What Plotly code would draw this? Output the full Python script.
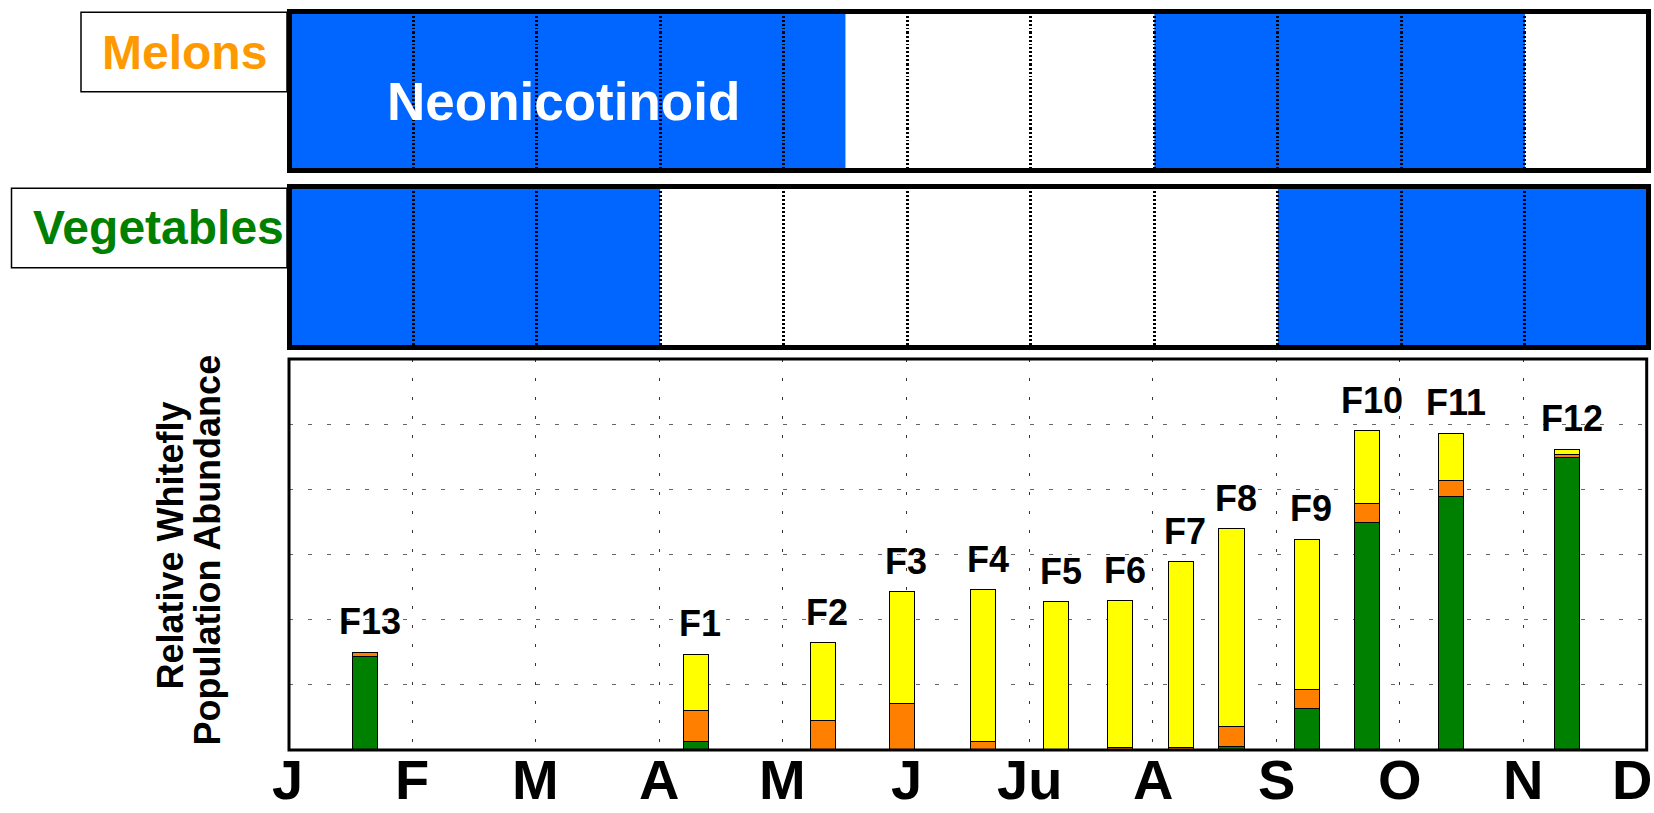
import plotly.graph_objects as go

# ---------------- data ----------------
months = ["J", "F", "M", "A", "M", "J", "Ju", "A", "S", "O", "N", "D"]
month_pos = list(range(12))

field_names = ["F13", "F1", "F2", "F3", "F4", "F5", "F6", "F7", "F8", "F9", "F10", "F11", "F12"]
field_time = [0.62, 3.30, 4.33, 4.97, 5.63, 6.22, 6.74, 7.23, 7.64, 8.25, 8.74, 9.42, 10.36]
green_vals = [1.42, 0.13, None, None, None, None, None, None, 0.04, 0.63, 3.49, 3.88, 4.48]
orange_vals = [0.07, 0.47, 0.45, 0.70, 0.12, None, 0.03, 0.03, 0.31, 0.29, 0.29, 0.25, 0.05]
yellow_vals = [None, 0.86, 1.19, 1.72, 2.33, 2.27, 2.25, 2.85, 3.04, 2.31, 1.11, 0.72, 0.08]

melon_neonic = [(0.0, 4.5), (7.0, 10.0)]
veg_neonic = [(0.0, 3.0), (8.0, 11.0)]

# ---------------- styling ----------------
W, H = 1654, 813
BLUE = "#0066FF"
GREEN = "#008000"
ORANGE = "#FF8000"
YELLOW = "#FFFF00"
SANS = "Arial, Liberation Sans, Helvetica, sans-serif"


def pxx(p):
    return p / W


def pxy(p):
    return 1 - p / H


fig = go.Figure()

bar_w = 0.203
for vals, col, nm in [(green_vals, GREEN, "green"), (orange_vals, ORANGE, "orange"), (yellow_vals, YELLOW, "yellow")]:
    fig.add_trace(go.Bar(
        x=field_time, y=vals, width=bar_w, name=nm,
        marker=dict(color=col, line=dict(color="black", width=1.2)),
        xaxis="x", yaxis="y", showlegend=False, hoverinfo="skip",
    ))

# invisible traces so top panels exist
for xa, ya in [("x2", "y2"), ("x3", "y3")]:
    fig.add_trace(go.Scatter(x=[0, 11], y=[0, 1], mode="markers", marker=dict(opacity=0),
                             xaxis=xa, yaxis=ya, showlegend=False, hoverinfo="skip"))

shapes = []
annotations = []

# bottom chart border
shapes.append(dict(type="rect", xref="x domain", yref="y domain", x0=0, x1=1, y0=0, y1=1,
                   line=dict(color="black", width=3), layer="above"))

# top panels
for (xa, ya, periods) in [("x2", "y2", melon_neonic), ("x3", "y3", veg_neonic)]:
    for s, e in periods:
        shapes.append(dict(type="rect", xref=xa, yref=ya + " domain", x0=s, x1=e, y0=0, y1=1,
                           fillcolor=BLUE, line=dict(width=0), layer="below"))
    shapes.append(dict(type="rect", xref=xa + " domain", yref=ya + " domain", x0=0, x1=1, y0=0, y1=1,
                       line=dict(color="black", width=5), layer="above"))

# label boxes
shapes.append(dict(type="rect", xref="paper", yref="paper", x0=pxx(81), x1=pxx(287),
                   y0=pxy(91.7), y1=pxy(12.3), line=dict(color="black", width=1.5), fillcolor="white",
                   layer="below"))
shapes.append(dict(type="rect", xref="paper", yref="paper", x0=pxx(11.5), x1=pxx(287),
                   y0=pxy(267.7), y1=pxy(188.3), line=dict(color="black", width=1.5), fillcolor="white",
                   layer="below"))

annotations.append(dict(text="Melons", x=pxx(184), y=pxy(52), xref="paper", yref="paper",
                        showarrow=False, xanchor="center", yanchor="middle",
                        font=dict(family=SANS, size=48, color="#FF9900", weight="bold")))
annotations.append(dict(text="Vegetables", x=pxx(158), y=pxy(228), xref="paper", yref="paper",
                        showarrow=False, xanchor="center", yanchor="middle",
                        font=dict(family=SANS, size=48, color=GREEN, weight="bold")))
annotations.append(dict(text="Neonicotinoid", x=pxx(563), y=pxy(102), xref="paper", yref="paper",
                        showarrow=False, xanchor="center", yanchor="middle",
                        font=dict(family=SANS, size=53, color="white", weight="bold")))

# bar labels
for nm, t, g, o, yv in zip(field_names, field_time, green_vals, orange_vals, yellow_vals):
    total = (g or 0) + (o or 0) + (yv or 0)
    annotations.append(dict(text=nm, x=t, y=total, xref="x", yref="y", showarrow=False,
                            xanchor="center", yanchor="middle", yshift=31, xshift=4,
                            font=dict(family=SANS, size=36, color="black", weight="bold")))

# month labels
for i, (m, p) in enumerate(zip(months, month_pos)):
    xs = 0
    if i == 0:
        xs = -2
    if i == len(months) - 1:
        xs = -15
    annotations.append(dict(text=m, x=p, y=pxy(779), xref="x", yref="paper", showarrow=False,
                            xanchor="center", yanchor="middle", xshift=xs,
                            font=dict(family=SANS, size=56, color="black", weight="bold")))

# y title (two lines)
annotations.append(dict(text="Relative Whitefly", x=pxx(169.5), y=pxy(546), xref="paper", yref="paper",
                        showarrow=False, textangle=-90, xanchor="center", yanchor="middle",
                        font=dict(family=SANS, size=36, color="black", weight="bold")))
annotations.append(dict(text="Population Abundance", x=pxx(206.5), y=pxy(550), xref="paper", yref="paper",
                        showarrow=False, textangle=-90, xanchor="center", yanchor="middle",
                        font=dict(family=SANS, size=36, color="black", weight="bold")))

top_x_dom = [pxx(289.5), pxx(1648.5)]
top_grid = dict(range=[0, 11], tickvals=list(range(1, 11)), showticklabels=False, ticks="",
                showgrid=True, gridcolor="black", gridwidth=2.5, griddash="2px,2px",
                zeroline=False, showline=False, fixedrange=True)
top_y = dict(range=[0, 1], showgrid=False, showticklabels=False, ticks="", zeroline=False,
             showline=False, fixedrange=True)

fig.update_layout(
    width=W, height=H,
    margin=dict(l=0, r=0, t=0, b=0),
    paper_bgcolor="white", plot_bgcolor="white",
    barmode="stack", bargap=0,
    xaxis=dict(domain=[pxx(289), pxx(1646.7)], range=[0, 11], tickvals=list(range(1, 11)),
               showticklabels=False, ticks="", showgrid=True, gridcolor="#333333", gridwidth=1,
               griddash="3px,16px", zeroline=False, showline=False, anchor="y", fixedrange=True),
    yaxis=dict(domain=[pxy(750), pxy(359)], range=[0, 6], tickvals=[1, 2, 3, 4, 5],
               showticklabels=False, ticks="", showgrid=True, gridcolor="#666666", gridwidth=1,
               griddash="4px,15px", zeroline=False, showline=False, anchor="x", fixedrange=True),
    xaxis2=dict(domain=top_x_dom, anchor="y2", **top_grid),
    yaxis2=dict(domain=[pxy(170.5), pxy(11.5)], anchor="x2", **top_y),
    xaxis3=dict(domain=top_x_dom, anchor="y3", **top_grid),
    yaxis3=dict(domain=[pxy(347.5), pxy(186.5)], anchor="x3", **top_y),
    shapes=shapes,
    annotations=annotations,
)

fig.write_html(
    "out.html",
    config={"displayModeBar": False},
    post_script="document.body.style.margin='0';document.body.style.overflow='hidden';",
)
